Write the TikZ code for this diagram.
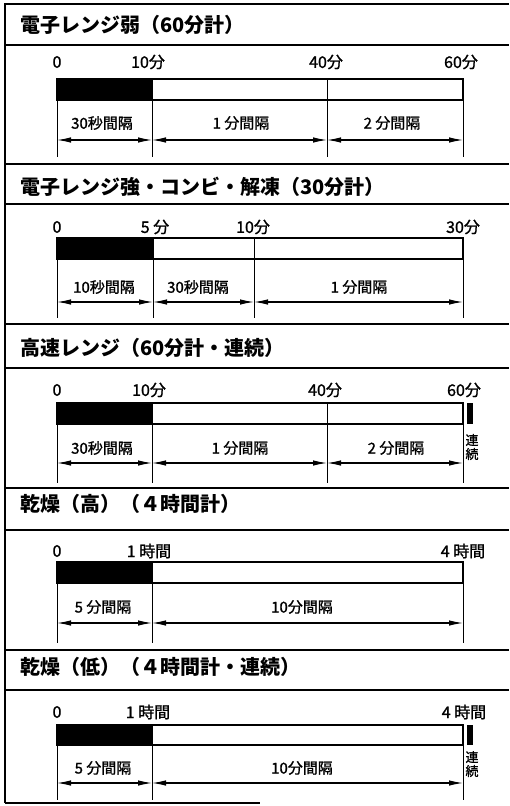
\documentclass[tikz,border=0pt]{standalone}
\usepackage{fontspec}
\setmainfont{Noto Sans CJK JP}
\newfontfamily\labelfont{Noto Sans CJK JP}[FakeBold=1.2]
\usetikzlibrary{arrows.meta}
\begin{document}
\begin{tikzpicture}[x=1pt,y=-1pt,
  frame/.style={line width=2.4pt},
  sepline/.style={line width=1.3pt},
  barbox/.style={line width=1.4pt},
  divline/.style={line width=0.9pt},
  dimarrow/.style={line width=1.1pt,{Latex[length=14pt,width=5.5pt]}-{Latex[length=14pt,width=5.5pt]}},
  titletext/.style={anchor=west,inner sep=0pt,font=\bfseries\fontsize{20}{20}\selectfont},
  scaletext/.style={inner sep=0pt,font=\labelfont\fontsize{16}{16}\selectfont},
  segtext/.style={inner sep=0pt,font=\labelfont\fontsize{15}{15}\selectfont},
  conttext/.style={inner sep=0pt,font=\labelfont\fontsize{13}{13}\selectfont},
  contmark/.style={fill=black}]
\useasboundingbox (0,0) rectangle (509,806);
% outer frame
\draw[frame] (5,3) -- (5,803);
\draw[frame] (5,803) -- (260,803);

% ---------- Section 1 ----------
\draw[frame] (5,4) -- (509,4);
\node[titletext] (t1) at (20,25) {電子レンジ弱（60分計）};
\draw[sepline] (5,45) -- (509,45);
\node[scaletext] (s1a) at (57,62) {0};
\node[scaletext] (s1b) at (148,62) {10分};
\node[scaletext] (s1c) at (326,62) {40分};
\node[scaletext] (s1d) at (461,62) {60分};
\fill (57,79) rectangle (152,100);
\draw[barbox] (57,79) rectangle (463,100);
\foreach \x/\n in {57/a,152/b,327/c,463/d}{
  \coordinate (v1\n) at (\x,79);
  \coordinate (e1\n) at (\x,157);
  \coordinate (r1\n) at (\x,140);
  \draw[divline] (v1\n) -- (e1\n);
}
\draw[dimarrow] (r1a) -- (r1b);
\draw[dimarrow] (r1b) -- (r1c);
\draw[dimarrow] (r1c) -- (r1d);
\node[segtext] (g1a) at (102,123) {30秒間隔};
\node[segtext] (g1b) at (241,123) {1 分間隔};
\node[segtext] (g1c) at (392,123) {2 分間隔};

% ---------- Section 2 ----------
\draw[frame] (5,164) -- (509,164);
\node[titletext] (t2) at (20,187) {電子レンジ強・コンビ・解凍（30分計）};
\draw[sepline] (5,204) -- (509,204);
\node[scaletext] (s2a) at (57,227) {0};
\node[scaletext] (s2b) at (155,227) {5 分};
\node[scaletext] (s2c) at (253,227) {10分};
\node[scaletext] (s2d) at (463,227) {30分};
\fill (57,238) rectangle (153,259);
\draw[barbox] (57,238) rectangle (463,259);
\foreach \x/\n in {57/a,153/b,254/c,463/d}{
  \coordinate (v2\n) at (\x,238);
  \coordinate (e2\n) at (\x,318);
  \coordinate (r2\n) at (\x,302);
  \draw[divline] (v2\n) -- (e2\n);
}
\draw[dimarrow] (r2a) -- (r2b);
\draw[dimarrow] (r2b) -- (r2c);
\draw[dimarrow] (r2c) -- (r2d);
\node[segtext] (g2a) at (104,287) {10秒間隔};
\node[segtext] (g2b) at (198,287) {30秒間隔};
\node[segtext] (g2c) at (359,287) {1 分間隔};

% ---------- Section 3 ----------
\draw[frame] (5,324) -- (509,324);
\node[titletext] (t3) at (20,348) {高速レンジ（60分計・連続）};
\draw[sepline] (5,368) -- (509,368);
\node[scaletext] (s3a) at (57,390) {0};
\node[scaletext] (s3b) at (149,390) {10分};
\node[scaletext] (s3c) at (325,390) {40分};
\node[scaletext] (s3d) at (464,390) {60分};
\fill (57,403) rectangle (152,424);
\draw[barbox] (57,403) rectangle (463,424);
\foreach \x/\n in {57/a,152/b,327/c,463/d}{
  \coordinate (v3\n) at (\x,403);
  \coordinate (e3\n) at (\x,483);
  \coordinate (r3\n) at (\x,463);
  \draw[divline] (v3\n) -- (e3\n);
}
\draw[dimarrow] (r3a) -- (r3b);
\draw[dimarrow] (r3b) -- (r3c);
\draw[dimarrow] (r3c) -- (r3d);
\node[segtext] (g3a) at (102,448) {30秒間隔};
\node[segtext] (g3b) at (240,448) {1 分間隔};
\node[segtext] (g3c) at (396,448) {2 分間隔};
\fill[contmark] (467,403) rectangle (473,424);
\node[conttext] (c3a) at (472,440) {連};
\node[conttext] (c3b) at (472,454) {続};

% ---------- Section 4 ----------
\draw[frame] (5,488) -- (509,488);
\node[titletext] (t4) at (20,504) {乾燥（高）（４時間計）};
\draw[sepline] (5,530) -- (509,530);
\node[scaletext] (s4a) at (57,551) {0};
\node[scaletext] (s4b) at (149,551) {1 時間};
\node[scaletext] (s4c) at (463,551) {4 時間};
\fill (57,562) rectangle (152,583);
\draw[barbox] (57,562) rectangle (463,583);
\foreach \x/\n in {57/a,152/b,463/d}{
  \coordinate (v4\n) at (\x,562);
  \coordinate (e4\n) at (\x,643);
  \coordinate (r4\n) at (\x,623);
  \draw[divline] (v4\n) -- (e4\n);
}
\draw[dimarrow] (r4a) -- (r4b);
\draw[dimarrow] (r4b) -- (r4d);
\node[segtext] (g4a) at (103,607) {5 分間隔};
\node[segtext] (g4b) at (302,607) {10分間隔};

% ---------- Section 5 ----------
\draw[frame] (5,650) -- (509,650);
\node[titletext] (t5) at (20,667) {乾燥（低）（４時間計・連続）};
\draw[sepline] (5,690) -- (509,690);
\node[scaletext] (s5a) at (57,712) {0};
\node[scaletext] (s5b) at (148,712) {1 時間};
\node[scaletext] (s5c) at (464,712) {4 時間};
\fill (57,725) rectangle (152,745);
\draw[barbox] (57,725) rectangle (463,745);
\foreach \x/\n in {57/a,152/b,463/d}{
  \coordinate (v5\n) at (\x,725);
  \coordinate (e5\n) at (\x,800);
  \coordinate (r5\n) at (\x,783);
  \draw[divline] (v5\n) -- (e5\n);
}
\draw[dimarrow] (r5a) -- (r5b);
\draw[dimarrow] (r5b) -- (r5d);
\node[segtext] (g5a) at (103,768) {5 分間隔};
\node[segtext] (g5b) at (302,768) {10分間隔};
\fill[contmark] (467,725) rectangle (473,745);
\node[conttext] (c5a) at (472,757) {連};
\node[conttext] (c5b) at (472,771) {続};
\end{tikzpicture}
\end{document}
